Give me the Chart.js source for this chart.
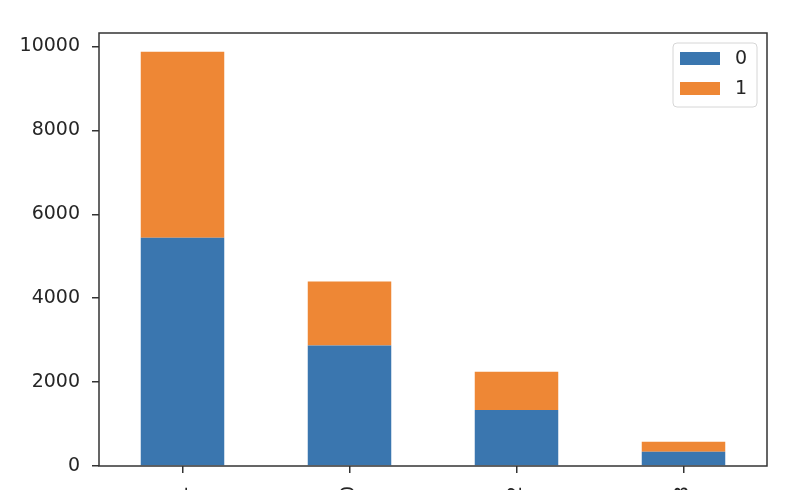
<!DOCTYPE html>
<html>
<head>
  <meta charset="UTF-8">
  <title>Stacked counts</title>
  <script src="https://cdn.jsdelivr.net/npm/chart.js"></script>
  <style>
    body {
      margin: 0;
      background: white;
      overflow: hidden;
    }
    .wrap {
      width: 790px;
      height: 490px;
      overflow: hidden;
      position: relative;
    }
  </style>
</head>
<body>
  <div class="wrap">
    <canvas id="chart" width="790" height="520"></canvas>
  </div>

  <script>
    // values
    const categories = ['1', '0', '2', '3'];
    const seriesNames = ['0', '1'];
    const series0 = [5438, 2869, 1336, 341];
    const series1 = [4436, 1526, 913, 239];
    const yTicks = [0, 2000, 4000, 6000, 8000, 10000];
    const colors = ['#3a76af', '#ee8735'];

    const FONT = '"DejaVu Sans", sans-serif';
    const AXIS = '#333333';

    // matplotlib style frame around the plot area
    const frame = {
      id: 'frame',
      afterDatasetsDraw(chart) {
        const a = chart.chartArea;
        const ctx = chart.ctx;
        ctx.save();
        ctx.strokeStyle = AXIS;
        ctx.lineWidth = 1.5;
        ctx.strokeRect(a.left, a.top, a.right - a.left, a.bottom - a.top);
        ctx.restore();
      }
    };

    // legend box in the upper right corner, inside the axes
    const boxLegend = {
      id: 'boxLegend',
      afterDraw(chart) {
        const a = chart.chartArea;
        const ctx = chart.ctx;
        const w = 84, h = 64;
        const x = a.right - 10 - w;
        const y = a.top + 10;
        ctx.save();
        ctx.beginPath();
        ctx.roundRect(x, y, w, h, 4);
        ctx.fillStyle = 'rgba(255,255,255,0.8)';
        ctx.fill();
        ctx.strokeStyle = '#d6d6d6';
        ctx.lineWidth = 1;
        ctx.stroke();
        ctx.font = '19px ' + FONT;
        ctx.textBaseline = 'middle';
        ctx.textAlign = 'left';
        chart.data.datasets.forEach((ds, i) => {
          const ry = y + 9 + i * 30;
          ctx.fillStyle = ds.backgroundColor;
          ctx.fillRect(x + 7, ry, 40, 13);
          ctx.fillStyle = '#262626';
          ctx.fillText(ds.label, x + 62, ry + 7);
        });
        ctx.restore();
      }
    };

    const ctx = document.getElementById('chart').getContext('2d');
    new Chart(ctx, {
      type: 'bar',
      data: {
        labels: categories,
        datasets: [
          { label: seriesNames[0], data: series0, backgroundColor: colors[0] },
          { label: seriesNames[1], data: series1, backgroundColor: colors[1] }
        ]
      },
      options: {
        responsive: false,
        animation: false,
        layout: { padding: { top: 33, right: 23, left: 0, bottom: 0 } },
        datasets: {
          bar: { barPercentage: 0.5, categoryPercentage: 1 }
        },
        scales: {
          x: {
            stacked: true,
            grid: {
              offset: false,
              drawOnChartArea: false,
              drawTicks: true,
              tickLength: 7,
              tickColor: AXIS,
              lineWidth: 1.5
            },
            border: { display: false },
            ticks: {
              minRotation: 90,
              maxRotation: 90,
              padding: 13,
              color: '#262626',
              font: { family: FONT, size: 19 }
            },
            afterFit(scale) { scale.height = 54; }
          },
          y: {
            stacked: true,
            min: 0,
            max: 10320,
            grid: {
              drawOnChartArea: false,
              drawTicks: true,
              tickLength: 7,
              tickColor: AXIS,
              lineWidth: 1.5
            },
            border: { display: false },
            ticks: {
              padding: 12,
              color: '#262626',
              font: { family: FONT, size: 19 },
              callback: v => String(v)
            },
            afterBuildTicks(scale) {
              scale.ticks = yTicks.map(v => ({ value: v }));
            },
            afterFit(scale) { scale.width = 99; }
          }
        },
        plugins: {
          legend: { display: false },
          tooltip: { enabled: false }
        }
      },
      plugins: [frame, boxLegend]
    });
  </script>
</body>
</html>
